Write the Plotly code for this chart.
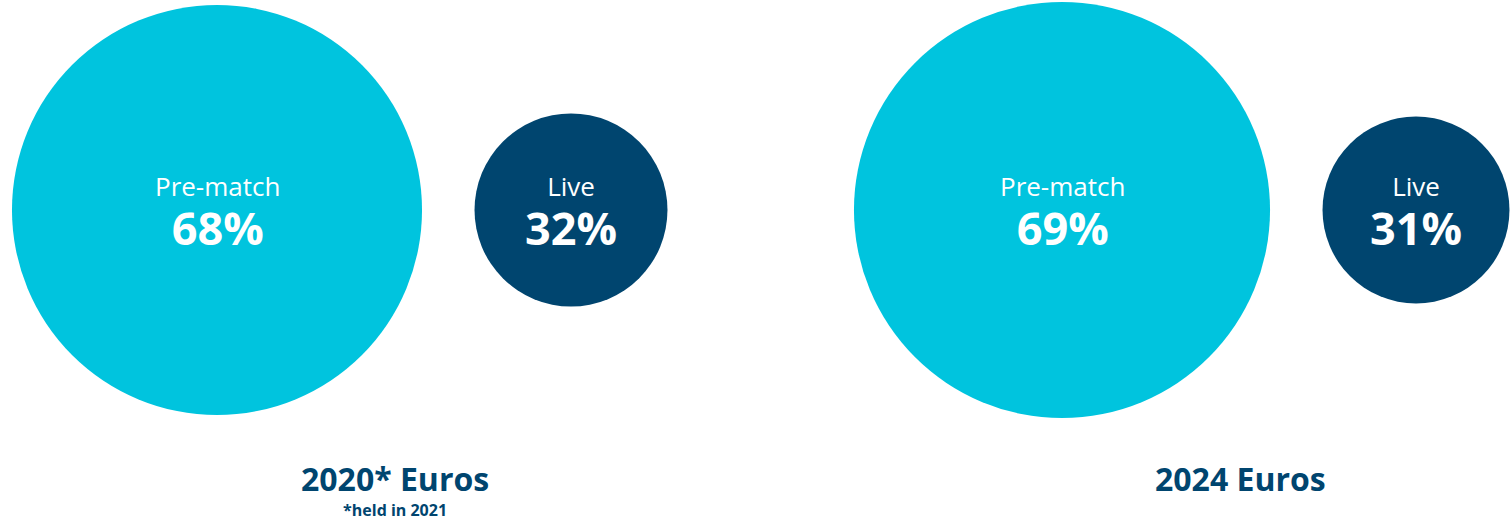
import plotly.graph_objects as go

# Data
events = ["2020* Euros", "2024 Euros"]
footnotes = ["*held in 2021", ""]
categories = ["Pre-match", "Live"]
prematch = [68, 69]
live = [32, 31]

# Styling / layout
CYAN = "#00C4DE"
NAVY = "#00456F"
FONT = "Open Sans"
W, H = 1510, 523
PX_PER_PCT = 6.03  # marker diameter in px per percentage point
cy = 210
centers_x = [[217, 571], [1062, 1416]]
title_x = [395, 1240]

fig = go.Figure()
annotations = []
for i, ev in enumerate(events):
    vals = [prematch[i], live[i]]
    cols = [CYAN, NAVY]
    for j, cat in enumerate(categories):
        fig.add_trace(go.Scatter(
            x=[centers_x[i][j]], y=[cy], mode="markers",
            marker=dict(size=vals[j] * PX_PER_PCT, color=cols[j], line=dict(width=0), opacity=1),
            hoverinfo="skip", showlegend=False,
        ))
        label = (f"<span style='font-size:26px'>{cat}</span><br>"
                 f"<span style='font-size:45px'><b>{vals[j]}%</b></span>")
        annotations.append(dict(x=centers_x[i][j], y=cy + 3, text=label, showarrow=False,
                                font=dict(family=FONT, size=38, color="white"),
                                align="center", xanchor="center", yanchor="middle"))
    if footnotes[i]:
        ttl = (f"<span style='font-size:32px'><b>{ev}</b></span><br>"
               f"<span style='font-size:16px'><b>{footnotes[i]}</b></span>")
        ty = 489
    else:
        ttl = f"<span style='font-size:32px'><b>{ev}</b></span>"
        ty = 478
    annotations.append(dict(x=title_x[i], y=ty, text=ttl, showarrow=False,
                            font=dict(family=FONT, size=19, color=NAVY),
                            align="center", xanchor="center", yanchor="middle"))

fig.update_layout(
    width=W, height=H,
    margin=dict(l=0, r=0, t=0, b=0),
    paper_bgcolor="white", plot_bgcolor="white",
    xaxis=dict(range=[0, W], visible=False, fixedrange=True),
    yaxis=dict(range=[H, 0], visible=False, fixedrange=True),
    annotations=annotations,
    showlegend=False,
)
fig.write_html("out.html", config={"displayModeBar": False},
               post_script="document.body.style.margin='0';")
